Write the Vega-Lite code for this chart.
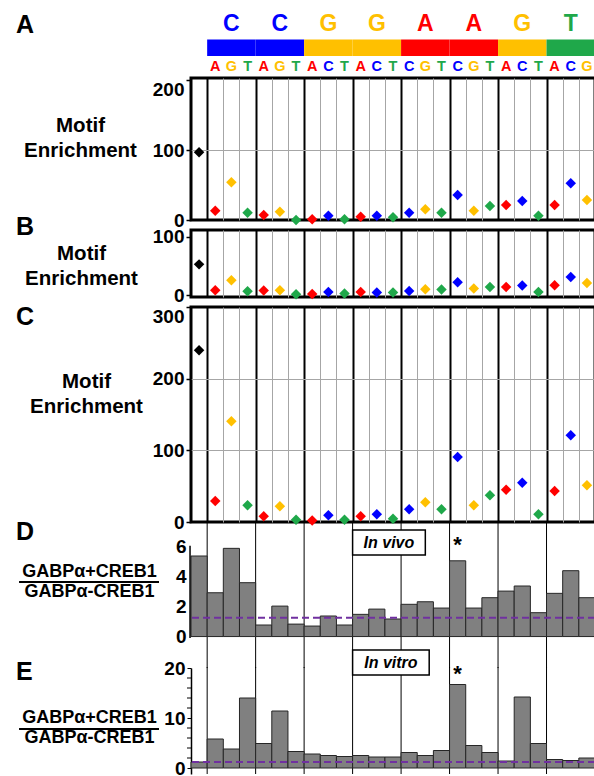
{
  "$schema": "https://vega.github.io/schema/vega-lite/v6.json",
  "padding": {"left": 15, "top": 2, "right": 0, "bottom": 0},
  "autosize": {"type": "pad"},
  "spacing": 10,
  "bounds": "flush",
  "config": {
    "font": "Liberation Sans",
    "view": {"stroke": null},
    "axis": {"labelFontSize": 19, "labelFontWeight": "bold", "labelColor": "#000000", "titleFontSize": 20.5, "titleFontWeight": "bold", "titleColor": "#000000", "labelOverlap": false},
    "text": {"fontWeight": "bold", "color": "#000000"}
  },
  "datasets": {
    "cols": [
      {"col": 0, "base": "N", "all": 97, "minus": 53, "plus": 239.5, "vivo": 5.37, "vitro": 1.2},
      {"col": 1, "base": "A", "all": 13.3, "minus": 8.6, "plus": 29.3, "vivo": 2.92, "vitro": 5.8},
      {"col": 2, "base": "G", "all": 53.8, "minus": 25.7, "plus": 140.5, "vivo": 5.88, "vitro": 3.8},
      {"col": 3, "base": "T", "all": 10.5, "minus": 6.9, "plus": 23.3, "vivo": 3.59, "vitro": 14.0},
      {"col": 4, "base": "A", "all": 7.1, "minus": 8.0, "plus": 7.9, "vivo": 0.77, "vitro": 4.9},
      {"col": 5, "base": "G", "all": 11.9, "minus": 8.6, "plus": 21.9, "vivo": 2.03, "vitro": 11.4},
      {"col": 6, "base": "T", "all": 0, "minus": 1.7, "plus": 3.3, "vivo": 0.83, "vitro": 3.3},
      {"col": 7, "base": "A", "all": 1, "minus": 2, "plus": 2, "vivo": 0.7, "vitro": 2.8},
      {"col": 8, "base": "C", "all": 6.2, "minus": 5.7, "plus": 9.3, "vivo": 1.37, "vitro": 2.5},
      {"col": 9, "base": "T", "all": 1, "minus": 2.9, "plus": 3.3, "vivo": 0.77, "vitro": 2.3},
      {"col": 10, "base": "A", "all": 4.8, "minus": 5.7, "plus": 7.9, "vivo": 1.48, "vitro": 2.5},
      {"col": 11, "base": "C", "all": 6.2, "minus": 4.6, "plus": 10.7, "vivo": 1.83, "vitro": 2.2},
      {"col": 12, "base": "T", "all": 3.8, "minus": 4.6, "plus": 4.7, "vivo": 1.17, "vitro": 2.2},
      {"col": 13, "base": "C", "all": 10.5, "minus": 7.4, "plus": 17.7, "vivo": 2.15, "vitro": 3.1},
      {"col": 14, "base": "G", "all": 15.2, "minus": 10.3, "plus": 27.4, "vivo": 2.32, "vitro": 2.5},
      {"col": 15, "base": "T", "all": 10.5, "minus": 9.7, "plus": 17.7, "vivo": 1.9, "vitro": 3.5},
      {"col": 16, "base": "C", "all": 35.7, "minus": 22.3, "plus": 90.7, "vivo": 5.05, "vitro": 16.7},
      {"col": 17, "base": "G", "all": 13.3, "minus": 11.4, "plus": 23.3, "vivo": 1.9, "vitro": 4.5},
      {"col": 18, "base": "T", "all": 20, "minus": 14.3, "plus": 37.2, "vivo": 2.59, "vitro": 3.1},
      {"col": 19, "base": "A", "all": 21.4, "minus": 14.3, "plus": 45.1, "vivo": 3.03, "vitro": 1.4},
      {"col": 20, "base": "C", "all": 27, "minus": 16.6, "plus": 54.9, "vivo": 3.37, "vitro": 14.2},
      {"col": 21, "base": "T", "all": 6.2, "minus": 5.7, "plus": 10.7, "vivo": 1.59, "vitro": 4.9},
      {"col": 22, "base": "A", "all": 21.4, "minus": 17.1, "plus": 43.3, "vivo": 2.88, "vitro": 1.7},
      {"col": 23, "base": "C", "all": 52.4, "minus": 31.4, "plus": 120.9, "vivo": 4.39, "vitro": 1.5},
      {"col": 24, "base": "G", "all": 28.6, "minus": 21.1, "plus": 51.2, "vivo": 2.59, "vitro": 2.0}
    ],
    "groups": [
      {"lo": 0.5, "mid": 2, "hi": 3.5, "base": "C"},
      {"lo": 3.5, "mid": 5, "hi": 6.5, "base": "C"},
      {"lo": 6.5, "mid": 8, "hi": 9.5, "base": "G"},
      {"lo": 9.5, "mid": 11, "hi": 12.5, "base": "G"},
      {"lo": 12.5, "mid": 14, "hi": 15.5, "base": "A"},
      {"lo": 15.5, "mid": 17, "hi": 18.5, "base": "A"},
      {"lo": 18.5, "mid": 20, "hi": 21.5, "base": "G"},
      {"lo": 21.5, "mid": 23, "hi": 24.5, "base": "T"}
    ],
    "minorTicks": [{"v": 2}, {"v": 4}, {"v": 6}, {"v": 8}, {"v": 12}, {"v": 14}, {"v": 16}, {"v": 18}],
    "letters": [{"t": "A", "y": 1.59}, {"t": "B", "y": -7.59}, {"t": "C", "y": -11.68}]
  },
  "vconcat": [
    {
      "width": 404, "height": 66,
      "layer": [
        {
          "data": {"name": "groups"},
          "mark": {"type": "rect"},
          "encoding": {
            "x": {"field": "lo", "type": "quantitative", "scale": {"domain": [-0.5, 24.5], "nice": false, "zero": false, "padding": 0}, "axis": null},
            "x2": {"field": "hi"},
            "y": {"datum": 0.545, "type": "quantitative", "scale": {"domain": [0, 3], "nice": false, "zero": false}, "axis": null},
            "y2": {"datum": 1.295},
            "color": {"field": "base", "type": "nominal", "scale": {"domain": ["N", "A", "C", "G", "T"], "range": ["#000000", "#ff0000", "#0000ff", "#ffc000", "#1fa84a"]}, "legend": null}
          }
        },
        {
          "data": {"name": "groups"},
          "mark": {"type": "text", "fontSize": 23, "baseline": "middle"},
          "encoding": {
            "x": {"field": "mid", "type": "quantitative"},
            "y": {"datum": 2.0, "type": "quantitative"},
            "text": {"field": "base"},
            "color": {"field": "base", "type": "nominal", "legend": null}
          }
        },
        {
          "data": {"name": "cols"},
          "transform": [{"filter": "datum.base != 'N'"}],
          "mark": {"type": "text", "fontSize": 14.5, "baseline": "middle"},
          "encoding": {
            "x": {"field": "col", "type": "quantitative"},
            "y": {"datum": 0.05, "type": "quantitative"},
            "text": {"field": "base"},
            "color": {"field": "base", "type": "nominal", "legend": null}
          }
        },
        {
          "data": {"name": "letters"},
          "mark": {"type": "text", "fontSize": 25, "align": "left", "baseline": "alphabetic", "color": "#000000"},
          "encoding": {"x": {"datum": -11.33, "type": "quantitative"}, "y": {"field": "y", "type": "quantitative"}, "text": {"field": "t"}}
        }
      ]
    },
    {
      "width": 404, "height": 142,
      "view": {"stroke": "#000000", "strokeWidth": 3},
      "data": {"name": "cols"},
      "encoding": {
        "x": {"field": "col", "type": "quantitative", "scale": {"domain": [-0.5, 24.5], "nice": false, "zero": false, "padding": 0},
          "axis": {"values": [0.5,1.5,2.5,3.5,4.5,5.5,6.5,7.5,8.5,9.5,10.5,11.5,12.5,13.5,14.5,15.5,16.5,17.5,18.5,19.5,20.5,21.5,22.5,23.5], "grid": true, "labels": false, "ticks": false, "domain": false, "title": null,
            "gridColor": {"condition": {"test": "(datum.value - 0.5) % 3 == 0", "value": "#000000"}, "value": "#a6a6a6"},
            "gridWidth": {"condition": {"test": "(datum.value - 0.5) % 3 == 0", "value": 2}, "value": 1}, "gridOpacity": 1}},
        "y": {"field": "all", "type": "quantitative", "scale": {"domain": [0, 203], "nice": false, "zero": false},
          "axis": {"values": [0, 100, 200], "grid": true, "gridColor": "#a6a6a6", "gridOpacity": {"condition": {"test": "datum.value == 100", "value": 1}, "value": 0}, "domain": false, "ticks": true, "tickSize": 5, "tickColor": "#000000", "tickWidth": 1.5, "labelPadding": 2,
            "labelBaseline": {"condition": {"test": "datum.value == 200", "value": "top"}, "value": "middle"},
            "title": ["Motif", "Enrichment"], "titleAngle": 0, "titleAlign": "center", "titleBaseline": "middle", "titleX": -111, "titleY": 47, "titleLineHeight": 25}}
      },
      "layer": [
        {
          "mark": {"type": "point", "shape": "diamond", "filled": true, "size": 110, "opacity": 1},
          "encoding": {"color": {"field": "base", "type": "nominal", "scale": {"domain": ["N", "A", "C", "G", "T"], "range": ["#000000", "#ff0000", "#0000ff", "#ffc000", "#1fa84a"]}, "legend": null}}
        },
        {
          "data": {"values": [{}]},
          "mark": {"type": "rect", "fill": "#ffffff", "stroke": "#000000", "strokeWidth": 1.5},
          "encoding": {"x": {"datum": 6.5, "type": "quantitative"}, "x2": {"datum": 16.33}, "y": {"datum": 201.6, "type": "quantitative"}, "y2": {"datum": 164.4}}
        },
        {
          "data": {"values": [{}]},
          "mark": {"type": "text", "text": "GABPα (All) A549", "fontSize": 17, "baseline": "middle"},
          "encoding": {"x": {"datum": 11.4, "type": "quantitative"}, "y": {"datum": 183, "type": "quantitative"}}
        }
      ]
    },
    {
      "width": 404, "height": 67,
      "view": {"stroke": "#000000", "strokeWidth": 3},
      "data": {"name": "cols"},
      "encoding": {
        "x": {"field": "col", "type": "quantitative", "scale": {"domain": [-0.5, 24.5], "nice": false, "zero": false, "padding": 0},
          "axis": {"values": [0.5,1.5,2.5,3.5,4.5,5.5,6.5,7.5,8.5,9.5,10.5,11.5,12.5,13.5,14.5,15.5,16.5,17.5,18.5,19.5,20.5,21.5,22.5,23.5], "grid": true, "labels": false, "ticks": false, "domain": false, "title": null,
            "gridColor": {"condition": {"test": "(datum.value - 0.5) % 3 == 0", "value": "#000000"}, "value": "#a6a6a6"},
            "gridWidth": {"condition": {"test": "(datum.value - 0.5) % 3 == 0", "value": 2}, "value": 1}, "gridOpacity": 1}},
        "y": {"field": "minus", "type": "quantitative", "scale": {"domain": [-3, 112], "nice": false, "zero": false},
          "axis": {"values": [0, 100], "grid": false, "domain": false, "ticks": true, "tickSize": 5, "tickColor": "#000000", "tickWidth": 1.5, "labelPadding": 2,
            "title": ["Motif", "Enrichment"], "titleAngle": 0, "titleAlign": "center", "titleBaseline": "middle", "titleX": -110, "titleY": 23.5, "titleLineHeight": 25}}
      },
      "layer": [
        {
          "mark": {"type": "point", "shape": "diamond", "filled": true, "size": 110, "opacity": 1},
          "encoding": {"color": {"field": "base", "type": "nominal", "scale": {"domain": ["N", "A", "C", "G", "T"], "range": ["#000000", "#ff0000", "#0000ff", "#ffc000", "#1fa84a"]}, "legend": null}}
        },
        {
          "data": {"values": [{}]},
          "mark": {"type": "rect", "fill": "#ffffff", "stroke": "#000000", "strokeWidth": 1.5},
          "encoding": {"x": {"datum": 6.5, "type": "quantitative"}, "x2": {"datum": 18.8}, "y": {"datum": 108.6, "type": "quantitative"}, "y2": {"datum": 67.4}}
        },
        {
          "data": {"values": [{}]},
          "mark": {"type": "text", "text": "GABPα – CREB1 A549", "fontSize": 17, "baseline": "middle"},
          "encoding": {"x": {"datum": 12.65, "type": "quantitative"}, "y": {"datum": 88, "type": "quantitative"}}
        }
      ]
    },
    {
      "width": 404, "height": 215,
      "view": {"stroke": "#000000", "strokeWidth": 3},
      "data": {"name": "cols"},
      "encoding": {
        "x": {"field": "col", "type": "quantitative", "scale": {"domain": [-0.5, 24.5], "nice": false, "zero": false, "padding": 0},
          "axis": {"values": [0.5,1.5,2.5,3.5,4.5,5.5,6.5,7.5,8.5,9.5,10.5,11.5,12.5,13.5,14.5,15.5,16.5,17.5,18.5,19.5,20.5,21.5,22.5,23.5], "grid": true, "labels": false, "ticks": false, "domain": false, "title": null,
            "gridColor": {"condition": {"test": "(datum.value - 0.5) % 3 == 0", "value": "#000000"}, "value": "#a6a6a6"},
            "gridWidth": {"condition": {"test": "(datum.value - 0.5) % 3 == 0", "value": 2}, "value": 1}, "gridOpacity": 1}},
        "y": {"field": "plus", "type": "quantitative", "scale": {"domain": [0, 300], "nice": false, "zero": false},
          "axis": {"values": [0, 100, 200, 300], "grid": true, "gridColor": "#a6a6a6", "gridOpacity": {"condition": {"test": "datum.value == 100 || datum.value == 200", "value": 1}, "value": 0}, "domain": false, "ticks": true, "tickSize": 5, "tickColor": "#000000", "tickWidth": 1.5, "labelPadding": 2,
            "labelBaseline": {"condition": {"test": "datum.value == 300", "value": "top"}, "value": "middle"},
            "title": ["Motif", "Enrichment"], "titleAngle": 0, "titleAlign": "center", "titleBaseline": "middle", "titleX": -105, "titleY": 74, "titleLineHeight": 25}}
      },
      "layer": [
        {
          "mark": {"type": "point", "shape": "diamond", "filled": true, "size": 110, "opacity": 1},
          "encoding": {"color": {"field": "base", "type": "nominal", "scale": {"domain": ["N", "A", "C", "G", "T"], "range": ["#000000", "#ff0000", "#0000ff", "#ffc000", "#1fa84a"]}, "legend": null}}
        },
        {
          "data": {"values": [{}]},
          "mark": {"type": "rect", "fill": "#ffffff", "stroke": "#000000", "strokeWidth": 1.5},
          "encoding": {"x": {"datum": 6.5, "type": "quantitative"}, "x2": {"datum": 18.87}, "y": {"datum": 293, "type": "quantitative"}, "y2": {"datum": 258}}
        },
        {
          "data": {"values": [{}]},
          "mark": {"type": "text", "text": "GABPα + CREB1 A549", "fontSize": 17, "baseline": "middle"},
          "encoding": {"x": {"datum": 12.7, "type": "quantitative"}, "y": {"datum": 275.5, "type": "quantitative"}}
        }
      ]
    },
    {
      "width": 404, "height": 126,
      "layer": [
        {
          "data": {"name": "groups"},
          "mark": {"type": "rule", "color": "#000000", "strokeWidth": 1},
          "encoding": {
            "x": {"field": "lo", "type": "quantitative", "scale": {"domain": [-0.5, 24.5], "nice": false, "zero": false, "padding": 0}, "axis": null},
            "y": {"datum": 7.57, "type": "quantitative", "scale": {"domain": [-1.43, 6.97], "nice": false, "zero": false, "padding": 0},
              "axis": {"values": [0, 2, 4, 6], "grid": false, "domain": false, "ticks": false, "labelPadding": 5, "title": null}},
            "y2": {"datum": -2.1}
          }
        },
        {
          "data": {"name": "cols"},
          "mark": {"type": "bar", "width": 16.16, "fill": "#808080", "stroke": "#262626", "strokeWidth": 1},
          "encoding": {
            "x": {"field": "col", "type": "quantitative"},
            "y": {"field": "vivo", "type": "quantitative"},
            "y2": {"datum": 0}
          }
        },
        {
          "data": {"values": [{}]},
          "mark": {"type": "rule", "color": "#7030a0", "strokeWidth": 2, "strokeDash": [7, 4]},
          "encoding": {"y": {"datum": 1.25, "type": "quantitative"}}
        },
        {
          "data": {"values": [{}]},
          "mark": {"type": "rule", "color": "#000000", "strokeWidth": 1.5},
          "encoding": {"x": {"datum": -0.56, "type": "quantitative"}, "y": {"datum": -0.1, "type": "quantitative"}, "y2": {"datum": 6.05}}
        },
        {
          "data": {"values": [{}]},
          "mark": {"type": "rect", "fill": "#ffffff", "stroke": "#000000", "strokeWidth": 1.5},
          "encoding": {"x": {"datum": 9.5, "type": "quantitative"}, "x2": {"datum": 14.0}, "y": {"datum": 7.1, "type": "quantitative"}, "y2": {"datum": 5.43}}
        },
        {
          "data": {"values": [{}]},
          "mark": {"type": "text", "text": "In vivo", "fontSize": 16, "fontStyle": "italic", "baseline": "middle"},
          "encoding": {"x": {"datum": 11.75, "type": "quantitative"}, "y": {"datum": 6.27, "type": "quantitative"}}
        },
        {
          "data": {"values": [{}]},
          "mark": {"type": "text", "text": "*", "fontSize": 22, "baseline": "middle"},
          "encoding": {"x": {"datum": 16, "type": "quantitative"}, "y": {"datum": 6.13, "type": "quantitative"}}
        },
        {
          "data": {"values": [{}]},
          "mark": {"type": "rule", "color": "#000000", "strokeWidth": 2},
          "encoding": {"x": {"datum": -11.14, "type": "quantitative"}, "x2": {"datum": -2.48}, "y": {"datum": 3.63, "type": "quantitative"}}
        },
        {
          "data": {"values": [{"t": "GABPα+CREB1", "v": 4.3}, {"t": "GABPα-CREB1", "v": 2.97}]},
          "mark": {"type": "text", "fontSize": 18, "baseline": "middle"},
          "encoding": {"x": {"datum": -6.78, "type": "quantitative"}, "y": {"field": "v", "type": "quantitative"}, "text": {"field": "t"}}
        },
        {
          "data": {"values": [{}]},
          "mark": {"type": "text", "text": "D", "fontSize": 25, "align": "left", "baseline": "alphabetic"},
          "encoding": {"x": {"datum": -11.33, "type": "quantitative"}, "y": {"datum": 6.43, "type": "quantitative"}}
        }
      ]
    },
    {
      "width": 404, "height": 106,
      "layer": [
        {
          "data": {"name": "groups"},
          "mark": {"type": "rule", "color": "#000000", "strokeWidth": 1},
          "encoding": {
            "x": {"field": "lo", "type": "quantitative", "scale": {"domain": [-0.5, 24.5], "nice": false, "zero": false, "padding": 0}, "axis": null},
            "y": {"datum": 20.2, "type": "quantitative", "scale": {"domain": [-1.2, 20], "nice": false, "zero": false, "padding": 0},
              "axis": {"values": [0, 10, 20], "grid": false, "domain": true, "domainColor": "#000000", "domainWidth": 1.5, "ticks": true, "tickSize": 4, "tickColor": "#000000", "tickWidth": 1, "labelPadding": 2, "title": null}},
            "y2": {"datum": -1.2}
          }
        },
        {
          "data": {"name": "minorTicks"},
          "mark": {"type": "rule", "color": "#000000", "strokeWidth": 1},
          "encoding": {"x": {"datum": -0.5, "type": "quantitative"}, "x2": {"datum": -0.7475}, "y": {"field": "v", "type": "quantitative"}}
        },
        {
          "data": {"name": "cols"},
          "mark": {"type": "bar", "width": 16.16, "fill": "#808080", "stroke": "#262626", "strokeWidth": 1},
          "encoding": {
            "x": {"field": "col", "type": "quantitative"},
            "y": {"field": "vitro", "type": "quantitative"},
            "y2": {"datum": 0}
          }
        },
        {
          "data": {"values": [{}]},
          "mark": {"type": "rule", "color": "#7030a0", "strokeWidth": 2, "strokeDash": [7, 4]},
          "encoding": {"y": {"datum": 1.2, "type": "quantitative"}}
        },
        {
          "data": {"values": [{}]},
          "mark": {"type": "rect", "fill": "#ffffff", "stroke": "#000000", "strokeWidth": 1.5},
          "encoding": {"x": {"datum": 9.5, "type": "quantitative"}, "x2": {"datum": 14.24}, "y": {"datum": 23.6, "type": "quantitative"}, "y2": {"datum": 18.6}}
        },
        {
          "data": {"values": [{}]},
          "mark": {"type": "text", "text": "In vitro", "fontSize": 16, "fontStyle": "italic", "baseline": "middle"},
          "encoding": {"x": {"datum": 11.87, "type": "quantitative"}, "y": {"datum": 21.1, "type": "quantitative"}}
        },
        {
          "data": {"values": [{}]},
          "mark": {"type": "text", "text": "*", "fontSize": 22, "baseline": "middle"},
          "encoding": {"x": {"datum": 16, "type": "quantitative"}, "y": {"datum": 18.9, "type": "quantitative"}}
        },
        {
          "data": {"values": [{}]},
          "mark": {"type": "rule", "color": "#000000", "strokeWidth": 2},
          "encoding": {"x": {"datum": -11.14, "type": "quantitative"}, "x2": {"datum": -2.48}, "y": {"datum": 7.8, "type": "quantitative"}}
        },
        {
          "data": {"values": [{"t": "GABPα+CREB1", "v": 10}, {"t": "GABPα-CREB1", "v": 6}]},
          "mark": {"type": "text", "fontSize": 18, "baseline": "middle"},
          "encoding": {"x": {"datum": -6.78, "type": "quantitative"}, "y": {"field": "v", "type": "quantitative"}, "text": {"field": "t"}}
        },
        {
          "data": {"values": [{}]},
          "mark": {"type": "text", "text": "E", "fontSize": 25, "align": "left", "baseline": "alphabetic"},
          "encoding": {"x": {"datum": -11.33, "type": "quantitative"}, "y": {"datum": 17.6, "type": "quantitative"}}
        }
      ]
    }
  ]
}
